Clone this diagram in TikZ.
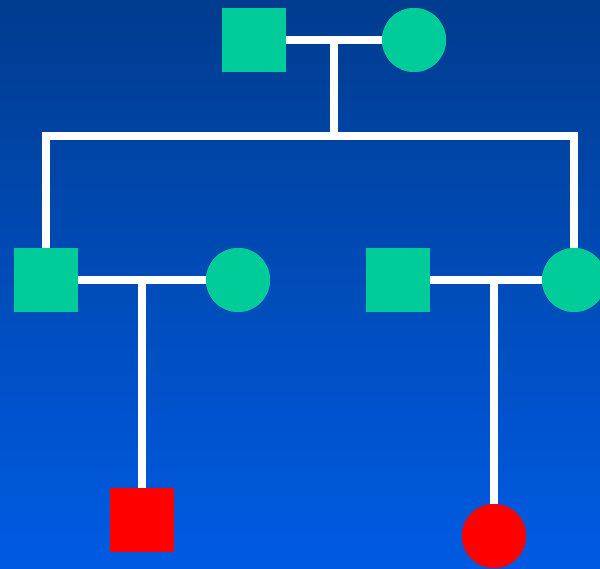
\documentclass[tikz,border=0pt]{standalone}
\definecolor{bgtop}{HTML}{003C8F}
\definecolor{bgbot}{HTML}{005BE3}
\definecolor{pgreen}{HTML}{00CC99}
\tikzset{
  male/.style={rectangle, fill=pgreen, minimum size=64pt, inner sep=0pt},
  female/.style={circle, fill=pgreen, minimum size=64pt, inner sep=0pt},
  rmale/.style={male, fill=red},
  rfemale/.style={female, fill=red},
  link/.style={draw=white, line width=8pt}
}
\begin{document}
\begin{tikzpicture}[x=1pt,y=-1pt]
\shade[top color=bgtop, bottom color=bgbot] (0,0) rectangle (600,569);
\useasboundingbox (0,0) rectangle (600,569);
% nodes
\node[male] (gf) at (254,40) {};
\node[female] (gm) at (414,40) {};
\node[male] (f1) at (46,280) {};
\node[female] (w1) at (238,280) {};
\node[male] (h2) at (398,280) {};
\node[female] (m2) at (574,280) {};
\node[rmale] (c1) at (142,520) {};
\node[rfemale] (c2) at (494,536) {};
\coordinate (t0) at (334,40);
\coordinate (b0) at (334,136);
\coordinate (bl) at (46,136);
\coordinate (br) at (574,136);
\coordinate (t1) at (142,280);
\coordinate (t2) at (494,280);
% connectors
\begin{scope}[on background layer/.style={}]
\path[link] (gf.east) -- (gm.west);
\path[link] (t0) -- (b0);
\path[link] (f1.north) -- (bl) -- (br) -- (m2.north);
\path[link] (f1.east) -- (w1.west);
\path[link] (h2.east) -- (m2.west);
\path[link] (t1) -- (c1.north);
\path[link] (t2) -- (c2.north);
\end{scope}
% redraw nodes on top
\node[male] at (gf) {};
\node[female] at (gm) {};
\node[male] at (f1) {};
\node[female] at (w1) {};
\node[male] at (h2) {};
\node[female] at (m2) {};
\node[rmale] at (c1) {};
\node[rfemale] at (c2) {};
\end{tikzpicture}
\end{document}
